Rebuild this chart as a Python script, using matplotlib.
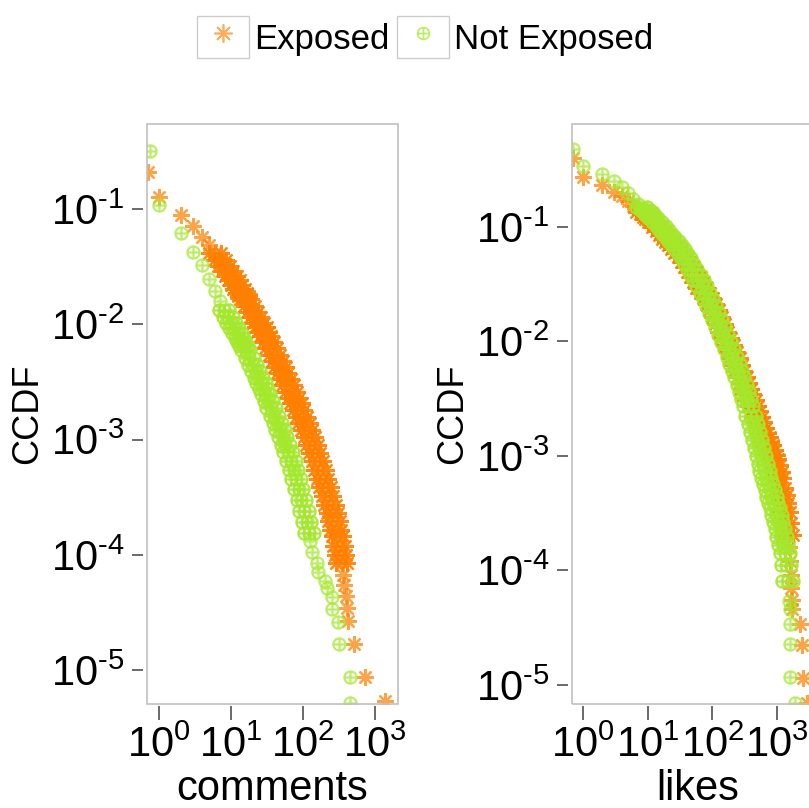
import matplotlib
matplotlib.use("Agg")
import matplotlib.pyplot as plt
from matplotlib.path import Path
from matplotlib.patches import Rectangle
from matplotlib.lines import Line2D
from matplotlib.legend_handler import HandlerLine2D
from matplotlib.ticker import NullLocator

plt.rcParams['font.family'] = ['Liberation Sans', 'DejaVu Sans']
plt.rcParams['mathtext.fontset'] = 'custom'
plt.rcParams['mathtext.rm'] = 'Liberation Sans'
plt.rcParams['mathtext.it'] = 'Liberation Sans:italic'
plt.rcParams['mathtext.bf'] = 'Liberation Sans:bold'

# ---------------- data ----------------
series_labels = ['Exposed', 'Not Exposed']

# --- comments, Exposed: centre of the band + tail ---
comments_exposed_x = [0.7, 1, 2, 3, 4, 5, 6, 7, 8, 9, 10, 11, 12, 13, 14, 15, 16,
                      18, 20, 22, 24, 26, 28, 30,
                      33, 36, 40, 44, 48, 52, 57, 62, 68, 74, 80, 87, 95, 103, 112, 122,
                      133, 145, 158, 172, 187, 203, 220, 238, 255,
                      270, 285, 300, 315, 330, 345, 360, 375, 390, 405, 420,
                      513, 724, 1380]
comments_exposed_ccdf = [0.21, 0.127, 0.0891, 0.0708, 0.0575, 0.0490, 0.0417, 0.0363, 0.0321,
                         0.0288, 0.0263, 0.0240, 0.0219, 0.0202, 0.0188, 0.0175, 0.0164,
                         0.0145, 0.0129, 0.0115, 0.0103, 0.00938, 0.00859, 0.00794,
                         0.00700, 0.00627, 0.00546, 0.00479, 0.00424, 0.00378, 0.00333, 0.00296,
                         0.00259, 0.00231, 0.00207, 0.00180, 0.00157, 0.00138, 0.00121, 0.00105,
                         0.000899, 0.000766, 0.000649, 0.000542, 0.000456, 0.000385, 0.000322,
                         0.000270, 0.000229,
                         0.000195, 0.000166, 0.000145, 0.000120, 0.000100, 0.0000851, 0.0000676,
                         0.0000550, 0.0000437, 0.0000347, 0.0000269,
                         1.70e-5, 8.7e-6, 5.4e-6]
# points on the right / left edges of the thick band
comments_exposed_band_ccdf = [0.0417, 0.0363, 0.0321, 0.0288, 0.0263, 0.0240, 0.0219, 0.0202,
                              0.0188, 0.0175, 0.0164,
                              0.0145, 0.0129, 0.0115, 0.0103, 0.00938, 0.00859, 0.00794,
                              0.00700, 0.00627, 0.00546, 0.00479, 0.00424, 0.00378, 0.00333,
                              0.00296, 0.00259, 0.00231, 0.00207, 0.00180, 0.00157, 0.00138,
                              0.00121, 0.00105, 0.000899, 0.000766, 0.000649, 0.000542,
                              0.000456, 0.000385, 0.000322, 0.000270, 0.000229,
                              0.000195, 0.000166, 0.000145, 0.000120, 0.000100, 0.0000851]
comments_exposed_band_x_right = [7.2, 8.4, 9.6, 10.8, 12, 13.2, 14.4, 15.6, 16.8, 18, 19.2,
                                 21.6, 24, 26.4, 28.8, 31.2, 33.6, 36,
                                 39.6, 43.2, 48, 52.8, 57.6, 62.4, 68.4, 74.4, 81.6, 88.8, 96,
                                 104, 114, 124, 134, 146, 160, 174, 190, 206, 224, 244, 264,
                                 286, 306,
                                 324, 342, 360, 378, 396, 414]
comments_exposed_band_x_left = [5, 5.83, 6.67, 7.5, 8.33, 9.17, 10, 10.8, 11.7, 12.5, 13.3,
                                15, 16.7, 18.3, 20, 21.7, 23.3, 25,
                                27.5, 30, 33.3, 36.7, 40, 43.3, 47.5, 51.7, 56.7, 61.7, 66.7,
                                72.5, 79.2, 85.8, 93.3, 102, 111, 121, 132, 143, 156, 169, 183,
                                198, 213,
                                225, 238, 250, 263, 275, 288]

# --- comments, Not Exposed ---
comments_not_exposed_x = [0.75, 1, 2, 3, 4, 5, 6, 7, 8, 9, 10, 11, 12, 13, 14, 15, 16,
                          18, 20, 22, 24, 26, 28, 30,
                          33, 36, 40, 44, 48, 52, 57, 62, 68, 74, 80, 87, 95, 103, 112,
                          120, 127,
                          132, 155, 162, 204, 214, 251, 257, 302, 316, 447, 457]
comments_not_exposed_ccdf = [0.32, 0.108, 0.0617, 0.0427, 0.0324, 0.0246, 0.0195, 0.0159, 0.0134,
                             0.0116, 0.0102, 0.00923, 0.00841, 0.00764, 0.00700, 0.00644, 0.00596,
                             0.00511, 0.00446, 0.00390, 0.00345, 0.00308, 0.00275, 0.00248,
                             0.00215, 0.00189, 0.00161, 0.00138, 0.00120, 0.00105, 0.000902,
                             0.000783, 0.000647, 0.000543, 0.000459, 0.000372, 0.000299,
                             0.000242, 0.000192,
                             0.000156, 0.000132,
                             1.05e-4, 8.5e-5, 7.1e-5, 5.9e-5, 5.2e-5, 4.3e-5, 3.4e-5, 2.6e-5,
                             1.7e-5, 8.7e-6, 5.2e-6]
comments_not_exposed_band_ccdf = [0.0134, 0.0116, 0.0102, 0.00923, 0.00841, 0.00764, 0.00700,
                                  0.00644, 0.00596,
                                  0.00511, 0.00446, 0.00390, 0.00345, 0.00308, 0.00275, 0.00248,
                                  0.00215, 0.00189, 0.00161, 0.00138, 0.00120, 0.00105,
                                  0.000902, 0.000783, 0.000647, 0.000543, 0.000459, 0.000372,
                                  0.000299, 0.000242, 0.000192, 0.000156]
comments_not_exposed_band_x_right = [9.3, 10.5, 11.6, 12.8, 14, 15.1, 16.3, 17.4, 18.6,
                                     20.9, 23.3, 25.6, 27.9, 30.2, 32.6, 34.9,
                                     38.4, 41.9, 46.5, 51.2, 55.8, 60.5, 66.3, 72.1, 79.1, 86.0,
                                     93.0, 101, 110, 120, 130, 140]
comments_not_exposed_band_x_left = [6.9, 7.8, 8.6, 9.5, 10.3, 11.2, 12.1, 12.9, 13.8,
                                    15.5, 17.2, 19.0, 20.7, 22.4, 24.1, 25.9,
                                    28.4, 31.0, 34.5, 37.9, 41.4, 44.8, 49.1, 53.4, 58.6, 63.8,
                                    69.0, 75.0, 82.0, 88.8, 96.6, 103]

# --- likes ---
likes_base_x = [0.7, 1, 2, 3, 4, 5, 6, 7, 8, 9, 10, 11, 12,
                14, 16, 18, 20, 22,
                25, 28, 31, 35, 39, 44, 49, 55, 61, 68, 76, 85, 95,
                106, 118, 131, 146, 162, 180, 200, 220, 240, 260,
                285, 310, 335, 360, 390, 420, 450, 485, 520, 560,
                600, 640, 680, 720, 770, 820, 870, 920, 980, 1040,
                1100, 1170, 1240, 1310, 1380, 1450, 1520]

likes_exposed_x = likes_base_x + [1580, 1620, 1660, 1700, 1720, 2240, 2400, 2510, 2880]
likes_exposed_ccdf = [0.40, 0.274, 0.233, 0.204, 0.185, 0.170, 0.154, 0.143, 0.135, 0.130,
                      0.123, 0.117, 0.110,
                      0.100, 0.0921, 0.0851, 0.0793, 0.0745,
                      0.0692, 0.0641, 0.0592, 0.0542, 0.0495, 0.0451, 0.0407, 0.0364, 0.0328,
                      0.0293, 0.0266, 0.0238, 0.0214,
                      0.0189, 0.0164, 0.0142, 0.0122, 0.0107, 0.00927, 0.00802, 0.00710,
                      0.00619, 0.00553,
                      0.00486, 0.00433, 0.00385, 0.00349, 0.00308, 0.00274, 0.00247, 0.00219,
                      0.00198, 0.00177,
                      0.00159, 0.00145, 0.00133, 0.00124, 0.00112, 0.00102, 0.000940,
                      0.000830, 0.000728, 0.000635,
                      0.000527, 0.000451, 0.000384, 0.000326, 0.000258, 0.000205, 0.000160,
                      0.000120, 0.0000912, 0.0000700, 0.0000550,
                      4.57e-5, 3.39e-5, 2.24e-5, 1.15e-5, 6.9e-6]

likes_not_exposed_x = likes_base_x + [1560, 1585, 1595, 1610, 1905]
likes_not_exposed_ccdf = [0.48, 0.341, 0.290, 0.251, 0.223, 0.200, 0.177, 0.160, 0.150, 0.142,
                          0.135, 0.128, 0.121,
                          0.110, 0.101, 0.0933, 0.0869, 0.0817,
                          0.0750, 0.0695, 0.0641, 0.0581, 0.0531, 0.0478, 0.0431, 0.0381,
                          0.0343, 0.0303, 0.0267, 0.0235, 0.0206,
                          0.0179, 0.0154, 0.0133, 0.0115, 0.00989, 0.00855, 0.00736, 0.00638,
                          0.00553, 0.00486,
                          0.00418, 0.00361, 0.00316, 0.00273, 0.00225, 0.00191, 0.00163,
                          0.00138, 0.00118, 0.00100,
                          0.000855, 0.000741, 0.000647, 0.000573, 0.000499, 0.000438, 0.000389,
                          0.000348, 0.000307, 0.000262,
                          0.000230, 0.000196, 0.000168, 0.000141, 0.000111, 0.0000813,
                          0.0000537,
                          4.57e-5, 3.39e-5, 2.29e-5, 1.17e-5, 6.9e-6]

likes_band_x_right = [9.6, 10.8, 12, 13.2, 14.4, 16.8, 19.2, 21.6, 24, 26.4, 30, 33.6, 37.2,
                      42, 46.8, 52.8, 58.8, 66, 73.2, 81.6, 91.2, 102, 114, 127, 142, 157, 175,
                      194, 216, 240, 264, 288, 312, 342, 372, 402, 432, 468, 504, 540, 582,
                      624, 672, 720, 768, 816, 864, 924, 984, 1044, 1104, 1176, 1248, 1320,
                      1404, 1488, 1572, 1656, 1740]
likes_band_x_left = [6.67, 7.5, 8.33, 9.17, 10, 11.7, 13.3, 15, 16.7, 18.3, 20.8, 23.3, 25.8,
                     29.2, 32.5, 36.7, 40.8, 45.8, 50.8, 56.7, 63.3, 70.8, 79.2, 88.3, 98.3,
                     109, 122, 135, 150, 167, 183, 200, 217, 238, 258, 279, 300, 325, 350, 375,
                     404, 433, 467, 500, 533, 567, 600, 642, 683, 725, 767, 817, 867, 917, 975,
                     1033, 1092, 1150, 1208]
likes_not_exposed_band_ccdf = [0.150, 0.142, 0.135, 0.128, 0.121, 0.110, 0.101, 0.0933, 0.0869,
                               0.0817, 0.0750, 0.0695, 0.0641, 0.0581, 0.0531, 0.0478, 0.0431,
                               0.0381, 0.0343, 0.0303, 0.0267, 0.0235, 0.0206, 0.0179, 0.0154,
                               0.0133, 0.0115, 0.00989, 0.00855, 0.00736, 0.00638, 0.00553,
                               0.00486, 0.00418, 0.00361, 0.00316, 0.00273, 0.00225, 0.00191,
                               0.00163, 0.00138, 0.00118, 0.00100, 0.000855, 0.000741,
                               0.000647, 0.000573, 0.000499, 0.000438, 0.000389, 0.000348,
                               0.000307, 0.000262, 0.000230, 0.000196, 0.000168, 0.000141,
                               0.000111, 0.0000813]
likes_exposed_band_ccdf = [0.135, 0.130, 0.123, 0.117, 0.110, 0.100, 0.0921, 0.0851, 0.0793,
                           0.0745, 0.0692, 0.0641, 0.0592, 0.0542, 0.0495, 0.0451, 0.0407,
                           0.0364, 0.0328, 0.0293, 0.0266, 0.0238, 0.0214, 0.0189, 0.0164,
                           0.0142, 0.0122, 0.0107, 0.00927, 0.00802, 0.00710, 0.00619, 0.00553,
                           0.00486, 0.00433, 0.00385, 0.00349, 0.00308, 0.00274, 0.00247,
                           0.00219, 0.00198, 0.00177, 0.00159, 0.00145, 0.00133, 0.00124,
                           0.00112, 0.00102, 0.000940, 0.000830, 0.000728, 0.000635, 0.000527,
                           0.000451, 0.000384, 0.000326, 0.000258, 0.000205]

x_ticks = [1, 10, 100, 1000]
x_tick_labels = [r'$10^{0}$', r'$10^{1}$', r'$10^{2}$', r'$10^{3}$']
y_ticks = [1e-5, 1e-4, 1e-3, 1e-2, 1e-1]
y_tick_labels = [r'$10^{\text{-}5}$', r'$10^{\text{-}4}$', r'$10^{\text{-}3}$',
                 r'$10^{\text{-}2}$', r'$10^{\text{-}1}$']
panel_xlabels = ['comments', 'likes']
y_label = 'CCDF'

# ---------------- style ----------------
W, H = 809, 808
ORANGE = '#FF8000'
GREEN = '#A4E82C'
BOX = '#c0c0c0'
TICK = '#505050'

circ = Path.unit_circle()
cross = Path([[-1, 0], [1, 0], [0, -1], [0, 1]],
             [Path.MOVETO, Path.LINETO, Path.MOVETO, Path.LINETO])
crossed_circle = Path.make_compound_path(circ, cross)
asterisk = (8, 2, 0)

fig = plt.figure(figsize=(W / 100, H / 100), dpi=100)

panels = [
    dict(rect=[147 / W, 1 - 704 / H, 251 / W, 580 / H], xlim=(0.68, 2090), ylim=(5.1e-6, 0.545),
         exp=[(comments_exposed_x, comments_exposed_ccdf),
              (comments_exposed_band_x_right, comments_exposed_band_ccdf),
              (comments_exposed_band_x_left, comments_exposed_band_ccdf)],
         nexp=[(comments_not_exposed_x, comments_not_exposed_ccdf),
               (comments_not_exposed_band_x_right, comments_not_exposed_band_ccdf),
               (comments_not_exposed_band_x_left, comments_not_exposed_band_ccdf)],
         xlabel=panel_xlabels[0]),
    dict(rect=[572 / W, 1 - 704 / H, 251 / W, 580 / H], xlim=(0.676, 5130), ylim=(6.8e-6, 0.794),
         exp=[(likes_exposed_x, likes_exposed_ccdf),
              (likes_band_x_right, likes_exposed_band_ccdf),
              (likes_band_x_left, likes_exposed_band_ccdf)],
         nexp=[(likes_not_exposed_x, likes_not_exposed_ccdf),
               (likes_band_x_right, likes_not_exposed_band_ccdf),
               (likes_band_x_left, likes_not_exposed_band_ccdf)],
         xlabel=panel_xlabels[1]),
]

exp_style = dict(linestyle='none', marker=asterisk, ms=12, mec=ORANGE, mfc='none', mew=1.6)
nexp_style = dict(linestyle='none', marker=crossed_circle, ms=8.8, mec=GREEN, mfc='none',
                  mew=1.6)

for p in panels:
    ax = fig.add_axes(p['rect'])
    ax.set_xscale('log')
    ax.set_yscale('log')
    for i, (xs, ys) in enumerate(p['exp']):
        ax.plot(xs, ys, alpha=0.72 if i == 0 else 0.9, **exp_style)
    for i, (xs, ys) in enumerate(p['nexp']):
        ax.plot(xs, ys, alpha=0.72 if i == 0 else 0.9, **nexp_style)
    ax.set_xlim(*p['xlim'])
    ax.set_ylim(*p['ylim'])
    ax.set_xticks(x_ticks, labels=x_tick_labels)
    ax.set_yticks(y_ticks, labels=y_tick_labels)
    ax.xaxis.set_minor_locator(NullLocator())
    ax.yaxis.set_minor_locator(NullLocator())
    for s in ax.spines.values():
        s.set_visible(False)
    ax.spines['left'].set_position(('outward', 3))
    ax.spines['bottom'].set_position(('outward', 1.2))
    ax.add_patch(Rectangle((0, 0), 1, 1, transform=ax.transAxes, fill=False,
                           ec=BOX, lw=1.2, clip_on=False, zorder=5))
    ax.tick_params(axis='y', direction='out', length=8.2, width=1.2, color=TICK,
                   labelsize=30, pad=5)
    ax.tick_params(axis='x', direction='out', length=10, width=1.2, color=TICK,
                   labelsize=30, pad=4)
    ax.set_ylabel(y_label, fontsize=26)
    ax.yaxis.label.set_va('center')
    ax.yaxis.set_label_coords((28 - 147) / 251, 0.5)
    ax.set_xlabel(p['xlabel'], fontsize=30)
    ax.xaxis.label.set_va('baseline')
    ax.xaxis.set_label_coords(0.5, (704 - 800) / 580)


class BoxedHandler(HandlerLine2D):
    def create_artists(self, legend, orig_handle, xdescent, ydescent, width, height,
                       fontsize, trans):
        arts = super().create_artists(legend, orig_handle, xdescent, ydescent, width,
                                      height, fontsize, trans)
        rect = Rectangle((-xdescent, -ydescent), width, height, facecolor='white',
                         edgecolor='#cccccc', lw=1.0, transform=trans)
        return [rect] + arts


legend_handles = [
    Line2D([], [], linestyle='none', marker=asterisk, ms=13, mec=ORANGE, mfc='none',
           mew=1.2, alpha=0.65),
    Line2D([], [], linestyle='none', marker=crossed_circle, ms=8.5, mec=GREEN, mfc='none',
           mew=1.2, alpha=0.75),
]
fig.legend(legend_handles, series_labels, loc='center', bbox_to_anchor=(425 / W, 1 - 37 / H),
           ncol=2, frameon=False, fontsize=25, numpoints=1, handlelength=1.5,
           handleheight=1.44, handletextpad=0.15, columnspacing=0.2, borderpad=0,
           handler_map={l: BoxedHandler() for l in legend_handles})

fig.savefig('out.png', dpi=100)
